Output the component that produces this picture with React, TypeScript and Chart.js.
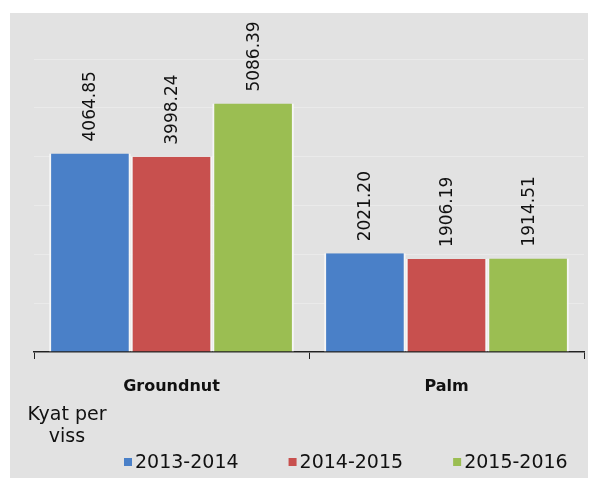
import React, { useEffect, useRef } from 'react';
import { Chart, registerables } from 'chart.js';

Chart.register(...registerables);

const categories = ['Groundnut', 'Palm'];
const seriesLabels = ['2013-2014', '2014-2015', '2015-2016'];
const values2013 = [4064.85, 2021.2];
const values2014 = [3998.24, 1906.19];
const values2015 = [5086.39, 1914.51];
const unitLabel = ['Kyat per', 'viss'];
const seriesColors = ['#4a80c8', '#c8504e', '#9bbe52'];

const valueLabelPlugin = {
  id: 'valueLabels',
  afterDatasetsDraw(chart: any) {
    const ctx = chart.ctx;
    ctx.save();
    ctx.font = '17px "DejaVu Sans"';
    ctx.fillStyle = '#111';
    ctx.textAlign = 'left';
    ctx.textBaseline = 'middle';
    chart.data.datasets.forEach((ds: any, i: number) => {
      const meta = chart.getDatasetMeta(i);
      meta.data.forEach((el: any, j: number) => {
        const v = ds.data[j] as number;
        ctx.save();
        ctx.translate(el.x + 1, el.y - 12);
        ctx.rotate(-Math.PI / 2);
        ctx.fillText(v.toFixed(2), 0, 0);
        ctx.restore();
      });
    });
    ctx.restore();
  },
};

const legendPlugin = {
  id: 'customLegend',
  afterDraw(chart: any) {
    const ctx = chart.ctx;
    ctx.save();
    ctx.font = '19px "DejaVu Sans"';
    ctx.textBaseline = 'alphabetic';
    ctx.textAlign = 'left';
    let x = 124;
    chart.data.datasets.forEach((ds: any) => {
      ctx.fillStyle = ds.backgroundColor;
      ctx.fillRect(x, 458, 8, 8);
      ctx.fillStyle = '#111';
      ctx.fillText(ds.label, x + 11, 468);
      x += 11 + ctx.measureText(ds.label).width + 50;
    });
    ctx.textAlign = 'center';
    ctx.fillText(unitLabel[0], 67, 420);
    ctx.fillText(unitLabel[1], 67, 442);
    ctx.restore();
  },
};

export default function App() {
  const ref = useRef<HTMLCanvasElement>(null);
  useEffect(() => {
    if (!ref.current) return;
    const seriesValues = [values2013, values2014, values2015];
    const chart = new Chart(ref.current, {
      type: 'bar',
      data: {
        labels: categories,
        datasets: seriesLabels.map((label, i) => ({
          label,
          data: seriesValues[i],
          backgroundColor: seriesColors[i],
          borderColor: '#f6f6f6',
          borderWidth: { left: 2, right: 2, top: 0, bottom: 0 },
          borderSkipped: 'bottom',
          categoryPercentage: 0.89,
          barPercentage: 1,
        })),
      },
      options: {
        animation: false,
        responsive: false,
        devicePixelRatio: 1,
        layout: { padding: { top: 59, right: 13, left: 0, bottom: 0 } },
        plugins: {
          legend: { display: false },
          tooltip: { enabled: false },
        },
        scales: {
          x: {
            grid: {
              display: true,
              drawOnChartArea: false,
              drawTicks: true,
              tickLength: 7,
              color: '#222',
              offset: true,
            },
            border: { display: true, color: '#222', width: 1.5 },
            ticks: {
              color: '#111',
              padding: 18,
              font: { family: 'DejaVu Sans', size: 16, weight: 'bold' },
            },
            afterFit: (s: any) => {
              s.height = 134;
            },
          },
          y: {
            min: 0,
            max: 6000,
            ticks: { display: false, stepSize: 1000 },
            grid: { color: 'rgba(255,255,255,0.28)', drawTicks: false },
            border: { display: false },
            afterFit: (s: any) => {
              s.width = 34;
            },
          },
        },
      },
      plugins: [valueLabelPlugin, legendPlugin],
    } as any);
    return () => chart.destroy();
  }, []);

  return (
    <div style={{ position: 'absolute', left: 0, top: 0, width: 597, height: 486, background: '#ffffff' }}>
      <div style={{ position: 'absolute', left: 10, top: 13, width: 578, height: 465, background: '#e2e2e2' }} />
      <canvas
        ref={ref}
        width={597}
        height={486}
        style={{ position: 'absolute', left: 0, top: 0, width: 597, height: 486 }}
      />
    </div>
  );
}
